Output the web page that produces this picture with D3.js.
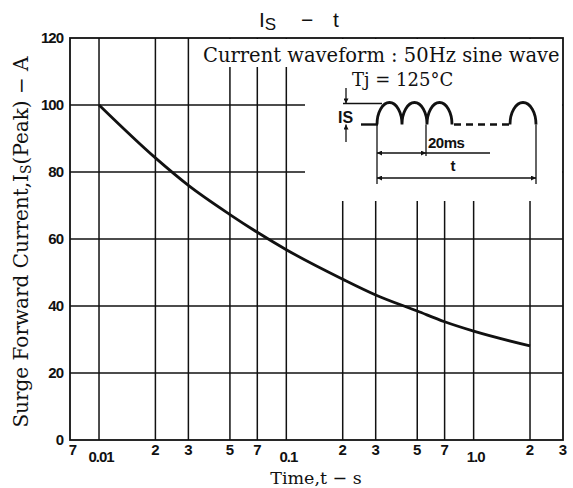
<!DOCTYPE html>
<html>
<head>
<meta charset="utf-8">
<script src="https://cdn.jsdelivr.net/npm/d3@7"></script>
<style>
  body { margin: 0; background: #fff; }
  .tick-label { font-family: "Liberation Sans", Arial, sans-serif; font-weight: bold; font-size: 15px; fill: #111; }
  .serif { font-family: "DejaVu Serif", "Liberation Serif", serif; fill: #111; }
</style>
</head>
<body>
<div id="my_dataviz"></div>
<script>
// data
var times    = [0.01, 0.02, 0.03, 0.05, 0.07, 0.1, 0.2, 0.3, 0.5, 0.7, 1.0, 2.0];
var currents = [100, 84.2, 76.0, 67.3, 62.0, 56.8, 48.0, 43.3, 38.5, 35.3, 32.5, 28.1];

var xGrid       = [0.01, 0.02, 0.03, 0.05, 0.07, 0.1, 0.2, 0.3, 0.5, 0.7, 1.0, 2.0];
var xMinorTicks = [0.007, 0.02, 0.03, 0.05, 0.07, 0.2, 0.3, 0.5, 0.7, 2, 3];
var xMinorText  = ["7", "2", "3", "5", "7", "2", "3", "5", "7", "2", "3"];
var xMajorTicks = [0.01, 0.1, 1.0];
var xMajorText  = ["0.01", "0.1", "1.0"];
var yTicks      = [0, 20, 40, 60, 80, 100, 120];
var yGrid       = [20, 40, 60, 80, 100];

// set the dimensions and margins of the graph
var margin = {top: 38, right: 10, bottom: 48, left: 70},
    width = 573 - margin.left - margin.right,
    height = 488 - margin.top - margin.bottom;

var svg = d3.select("#my_dataviz")
  .append("svg")
    .attr("width", 573)
    .attr("height", 488);

var x = d3.scaleLog()
  .domain([0.007, 3])
  .range([margin.left, margin.left + width]);

var y = d3.scaleLinear()
  .domain([0, 120])
  .range([margin.top + height, margin.top]);

var defs = svg.append("defs");
defs.append("marker")
  .attr("id", "arr")
  .attr("viewBox", "0 0 10 10")
  .attr("refX", 10).attr("refY", 5)
  .attr("markerWidth", 10).attr("markerHeight", 5)
  .attr("markerUnits", "userSpaceOnUse")
  .attr("orient", "auto-start-reverse")
  .append("path")
    .attr("d", "M0,0 L10,5 L0,10 Z")
    .attr("fill", "#111");

// grid
svg.append("g")
  .selectAll("line")
  .data(xGrid)
  .enter().append("line")
    .attr("x1", function(d) { return x(d); })
    .attr("x2", function(d) { return x(d); })
    .attr("y1", y(120))
    .attr("y2", y(0))
    .attr("stroke", "#111")
    .attr("stroke-width", 1.5);

svg.append("g")
  .selectAll("line")
  .data(yGrid)
  .enter().append("line")
    .attr("x1", x(0.007))
    .attr("x2", x(3))
    .attr("y1", function(d) { return y(d); })
    .attr("y2", function(d) { return y(d); })
    .attr("stroke", "#111")
    .attr("stroke-width", 1.3);

// white area behind the waveform note
svg.append("rect").attr("x", 200).attr("y", y(120) + 1).attr("width", x(3) - 201).attr("height", 28).attr("fill", "#fff");
svg.append("rect").attr("x", 305).attr("y", y(120) + 1).attr("width", x(3) - 306).attr("height", 162).attr("fill", "#fff");

// frame
svg.append("rect")
  .attr("x", x(0.007)).attr("y", y(120))
  .attr("width", x(3) - x(0.007)).attr("height", y(0) - y(120))
  .attr("fill", "none").attr("stroke", "#111").attr("stroke-width", 1.8);

// curve
var line = d3.line()
  .x(function(d) { return x(d[0]); })
  .y(function(d) { return y(d[1]); })
  .curve(d3.curveMonotoneX);

svg.append("path")
  .datum(times.map(function(t, i) { return [t, currents[i]]; }))
  .attr("d", line)
  .attr("fill", "none")
  .attr("stroke", "#111")
  .attr("stroke-width", 2.8);

// y tick labels
svg.append("g")
  .selectAll("text")
  .data(yTicks)
  .enter().append("text")
    .attr("class", "tick-label")
    .attr("x", x(0.007) - 7)
    .attr("y", function(d) { return y(d) + 5; })
    .attr("text-anchor", "end")
    .style("letter-spacing", "-1px")
    .text(function(d) { return d; });

// x tick labels
svg.append("g")
  .selectAll("text")
  .data(xMinorTicks)
  .enter().append("text")
    .attr("class", "tick-label")
    .attr("x", function(d) { return x(d) + (d === 0.007 ? 3 : 0); })
    .attr("y", y(0) + 15)
    .attr("text-anchor", "middle")
    .text(function(d, i) { return xMinorText[i]; });

svg.append("g")
  .selectAll("text")
  .data(xMajorTicks)
  .enter().append("text")
    .attr("class", "tick-label")
    .attr("x", function(d) { return x(d) + 2; })
    .attr("y", y(0) + 22)
    .attr("text-anchor", "middle")
    .style("letter-spacing", "-1px")
    .text(function(d, i) { return xMajorText[i]; });

// title
var title = svg.append("text")
  .attr("x", 259).attr("y", 27)
  .style("font-family", "Liberation Sans, Arial, sans-serif")
  .style("font-size", "21px")
  .attr("fill", "#111");
title.append("tspan").text("I");
title.append("tspan").attr("dy", 3).style("font-size", "17px").text("S");
title.append("tspan").attr("dy", -3).attr("x", 301).text("\u2212");
title.append("tspan").attr("x", 333).text("t");

// axis titles
svg.append("text")
  .attr("class", "serif")
  .attr("x", 316).attr("y", 484)
  .attr("text-anchor", "middle")
  .style("font-size", "17.5px")
  .text("Time,t \u2212 s");

var ylab = svg.append("text")
  .attr("class", "serif")
  .attr("transform", "translate(28,242) rotate(-90)")
  .attr("text-anchor", "middle")
  .style("font-size", "20px");
ylab.append("tspan").text("Surge Forward Current,I");
ylab.append("tspan").attr("dy", 3).style("font-size", "14px").text("S");
ylab.append("tspan").attr("dy", -3).text("(Peak) \u2212 A");

// waveform note
svg.append("text")
  .attr("class", "serif")
  .attr("x", 203).attr("y", 62)
  .style("font-size", "19.5px")
  .text("Current waveform : 50Hz sine wave");

svg.append("text")
  .attr("class", "serif")
  .attr("x", 352).attr("y", 86)
  .style("font-size", "18px")
  .text("Tj = 125\u00b0C");

var note = svg.append("g")
  .attr("fill", "none")
  .attr("stroke", "#111")
  .attr("stroke-width", 1.3);

var waveBase = 124.5, waveTop = 103.5;
function hump(x0, x1) {
  var r = (x1 - x0) / 2;
  return "M" + x0 + "," + waveBase +
         " A" + r + "," + (waveBase - waveTop + 1) + " 0 0 1 " + x1 + "," + waveBase;
}
note.append("path").attr("d", hump(377, 402) + hump(402, 427) + hump(427, 452) + hump(510, 536))
  .attr("stroke-width", 2.8);
note.append("line").attr("x1", 361).attr("x2", 378).attr("y1", waveBase).attr("y2", waveBase).attr("stroke-width", 2.4);
note.append("line").attr("x1", 454).attr("x2", 510).attr("y1", waveBase).attr("y2", waveBase)
  .attr("stroke-width", 2.6).attr("stroke-dasharray", "7,5");

// Is dimension
note.append("line").attr("x1", 343).attr("x2", 382).attr("y1", waveTop).attr("y2", waveTop);
note.append("line").attr("x1", 346).attr("x2", 346).attr("y1", 88).attr("y2", waveTop).attr("marker-end", "url(#arr)");
note.append("line").attr("x1", 346).attr("x2", 346).attr("y1", 142).attr("y2", waveBase).attr("marker-end", "url(#arr)");
svg.append("text")
  .attr("x", 338).attr("y", 123)
  .style("font-family", "Liberation Sans, Arial, sans-serif")
  .style("font-weight", "bold")
  .style("font-size", "16px")
  .attr("fill", "#111")
  .text("IS");

// 20ms and t dimensions
note.append("line").attr("x1", 377).attr("x2", 377).attr("y1", waveBase).attr("y2", 184);
note.append("line").attr("x1", 426).attr("x2", 426).attr("y1", waveBase).attr("y2", 156);
note.append("line").attr("x1", 536).attr("x2", 536).attr("y1", waveBase).attr("y2", 184);
note.append("line").attr("x1", 377).attr("x2", 426).attr("y1", 153).attr("y2", 153)
  .attr("marker-start", "url(#arr)").attr("marker-end", "url(#arr)");
note.append("line").attr("x1", 426).attr("x2", 490).attr("y1", 153).attr("y2", 153);
note.append("line").attr("x1", 377).attr("x2", 536).attr("y1", 178).attr("y2", 178)
  .attr("marker-start", "url(#arr)").attr("marker-end", "url(#arr)");

svg.append("text")
  .attr("x", 428).attr("y", 148)
  .style("font-family", "Liberation Sans, Arial, sans-serif")
  .style("font-weight", "bold")
  .style("font-size", "15px")
  .style("letter-spacing", "-0.5px")
  .attr("fill", "#111")
  .text("20ms");

svg.append("text")
  .attr("x", 453).attr("y", 171)
  .attr("text-anchor", "middle")
  .style("font-family", "Liberation Sans, Arial, sans-serif")
  .style("font-weight", "bold")
  .style("font-size", "15px")
  .attr("fill", "#111")
  .text("t");
</script>
</body>
</html>
